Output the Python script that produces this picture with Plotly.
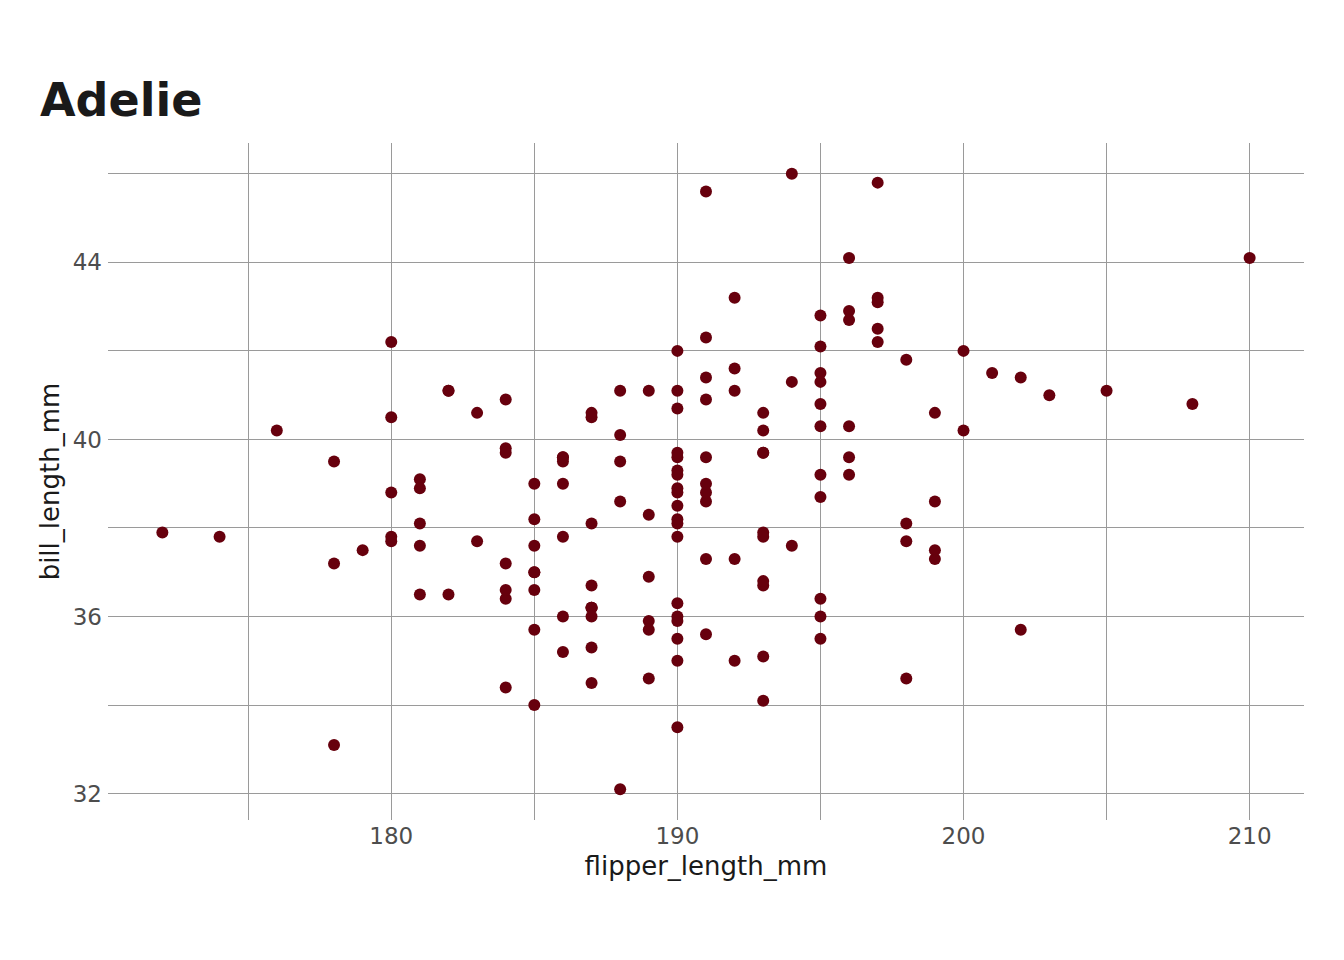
import plotly.graph_objects as go

flipper_length_mm = [181, 186, 195, 193, 190, 181, 195, 193, 190, 186, 180, 182, 191, 198, 185, 195, 197, 184, 194,
                     174, 180, 189, 185, 180, 187, 183, 187, 172, 180,
                     178, 178, 188, 184, 195, 196, 190, 180, 181, 184, 182, 195, 186, 196, 185, 190, 182, 179, 190, 191,
                     186, 188, 190, 200, 187, 191, 186, 193, 181, 194, 185, 195, 185, 192, 184, 192, 195, 188,
                     190, 198, 190, 190, 196, 197, 190, 195, 191, 184, 187, 195, 189, 196, 187, 193,
                     191, 194, 190, 189, 189, 190, 202, 205, 185, 186, 187, 208, 190, 196, 178, 192,
                     192, 203, 183, 190, 193, 184, 199, 190, 181, 197, 198, 191, 193, 197, 191, 196,
                     188, 199, 189, 189, 187, 198, 176, 202, 186, 199, 191, 195, 191, 210, 190, 197,
                     193, 199, 187, 190, 191, 200, 185, 193, 193, 187, 188, 190, 192, 185, 190, 184, 195, 193, 187, 201]

bill_length_mm = [39.1, 39.5, 40.3, 36.7, 39.3, 38.9, 39.2, 34.1, 42.0, 37.8, 37.8, 41.1, 38.6, 34.6, 36.6, 38.7, 42.5, 34.4, 46.0,
                  37.8, 37.7, 35.9, 38.2, 38.8, 35.3, 40.6, 40.5, 37.9, 40.5,
                  39.5, 37.2, 39.5, 40.9, 36.4, 39.2, 38.8, 42.2, 37.6, 39.8, 36.5, 40.8, 36.0, 44.1, 37.0, 39.6, 41.1, 37.5, 36.0, 42.3,
                  39.6, 40.1, 35.0, 42.0, 34.5, 41.4, 39.0, 40.6, 36.5, 37.6, 35.7, 41.3, 37.6, 41.1, 36.4, 41.6, 35.5, 41.1,
                  35.9, 41.8, 33.5, 39.7, 39.6, 45.8, 35.5, 42.8, 40.9, 37.2, 36.2, 42.1, 34.6, 42.9, 36.7, 35.1,
                  37.3, 41.3, 36.3, 36.9, 38.3, 38.9, 35.7, 41.1, 34.0, 39.6, 36.2, 40.8, 38.1, 40.3, 33.1, 43.2,
                  35.0, 41.0, 37.7, 37.8, 37.9, 39.7, 38.6, 38.2, 38.1, 43.2, 38.1, 45.6, 39.7, 42.2, 39.6, 42.7,
                  38.6, 37.3, 35.7, 41.1, 36.2, 37.7, 40.2, 41.4, 35.2, 40.6, 38.8, 41.5, 39.0, 44.1, 38.5, 43.1,
                  36.8, 37.5, 38.1, 41.1, 35.6, 40.2, 37.0, 39.7, 40.2, 40.6, 32.1, 40.7, 37.3, 39.0, 39.2, 36.6, 36.0, 37.8, 36.0, 41.5]

x_ticks = [180, 190, 200, 210]
y_ticks = [32, 36, 40, 44]
x_minor = [175, 185, 195, 205]
y_minor = [34, 38, 42, 46]

xmin, xmax = min(flipper_length_mm), max(flipper_length_mm)
ymin, ymax = min(bill_length_mm), max(bill_length_mm)
xpad = (xmax - xmin) * 0.05
ypad = (ymax - ymin) * 0.05

fig = go.Figure(go.Scatter(
    x=flipper_length_mm, y=bill_length_mm, mode="markers",
    marker=dict(size=12, color="#67000d", line=dict(width=0)),
    showlegend=False,
))

grid = "#9a9a9a"
font_family = "DejaVu Sans"
fig.update_layout(
    width=1344, height=960,
    paper_bgcolor="white", plot_bgcolor="white",
    margin=dict(l=100, r=48, t=135, b=148),
    font=dict(family=font_family),
    title=dict(text="<b>Adelie</b>", x=32 / 1344, xanchor="left", xref="container",
               y=1 - 92 / 960, yanchor="middle", yref="container",
               font=dict(size=46, color="#1a1a1a", family=font_family)),
    xaxis=dict(range=[xmin - xpad, xmax + xpad], tickvals=x_ticks, showgrid=True,
               gridcolor=grid, gridwidth=1, zeroline=False, showline=False, ticks="",
               tickfont=dict(size=23, color="#4d4d4d"),
               minor=dict(tickvals=x_minor, showgrid=True, gridcolor=grid, gridwidth=1, ticks=""),
               title=dict(text="flipper_length_mm", font=dict(size=26, color="#1a1a1a"), standoff=8)),
    yaxis=dict(range=[ymin - ypad, ymax + ypad], tickvals=y_ticks, showgrid=True,
               gridcolor=grid, gridwidth=1, zeroline=False, showline=False, ticks="",
               tickfont=dict(size=23, color="#4d4d4d"), ticklabelstandoff=5,
               minor=dict(tickvals=y_minor, showgrid=True, gridcolor=grid, gridwidth=1, ticks=""),
               title=dict(text="bill_length_mm", font=dict(size=26, color="#1a1a1a"), standoff=5)),
)

fig.write_html("out.html")
